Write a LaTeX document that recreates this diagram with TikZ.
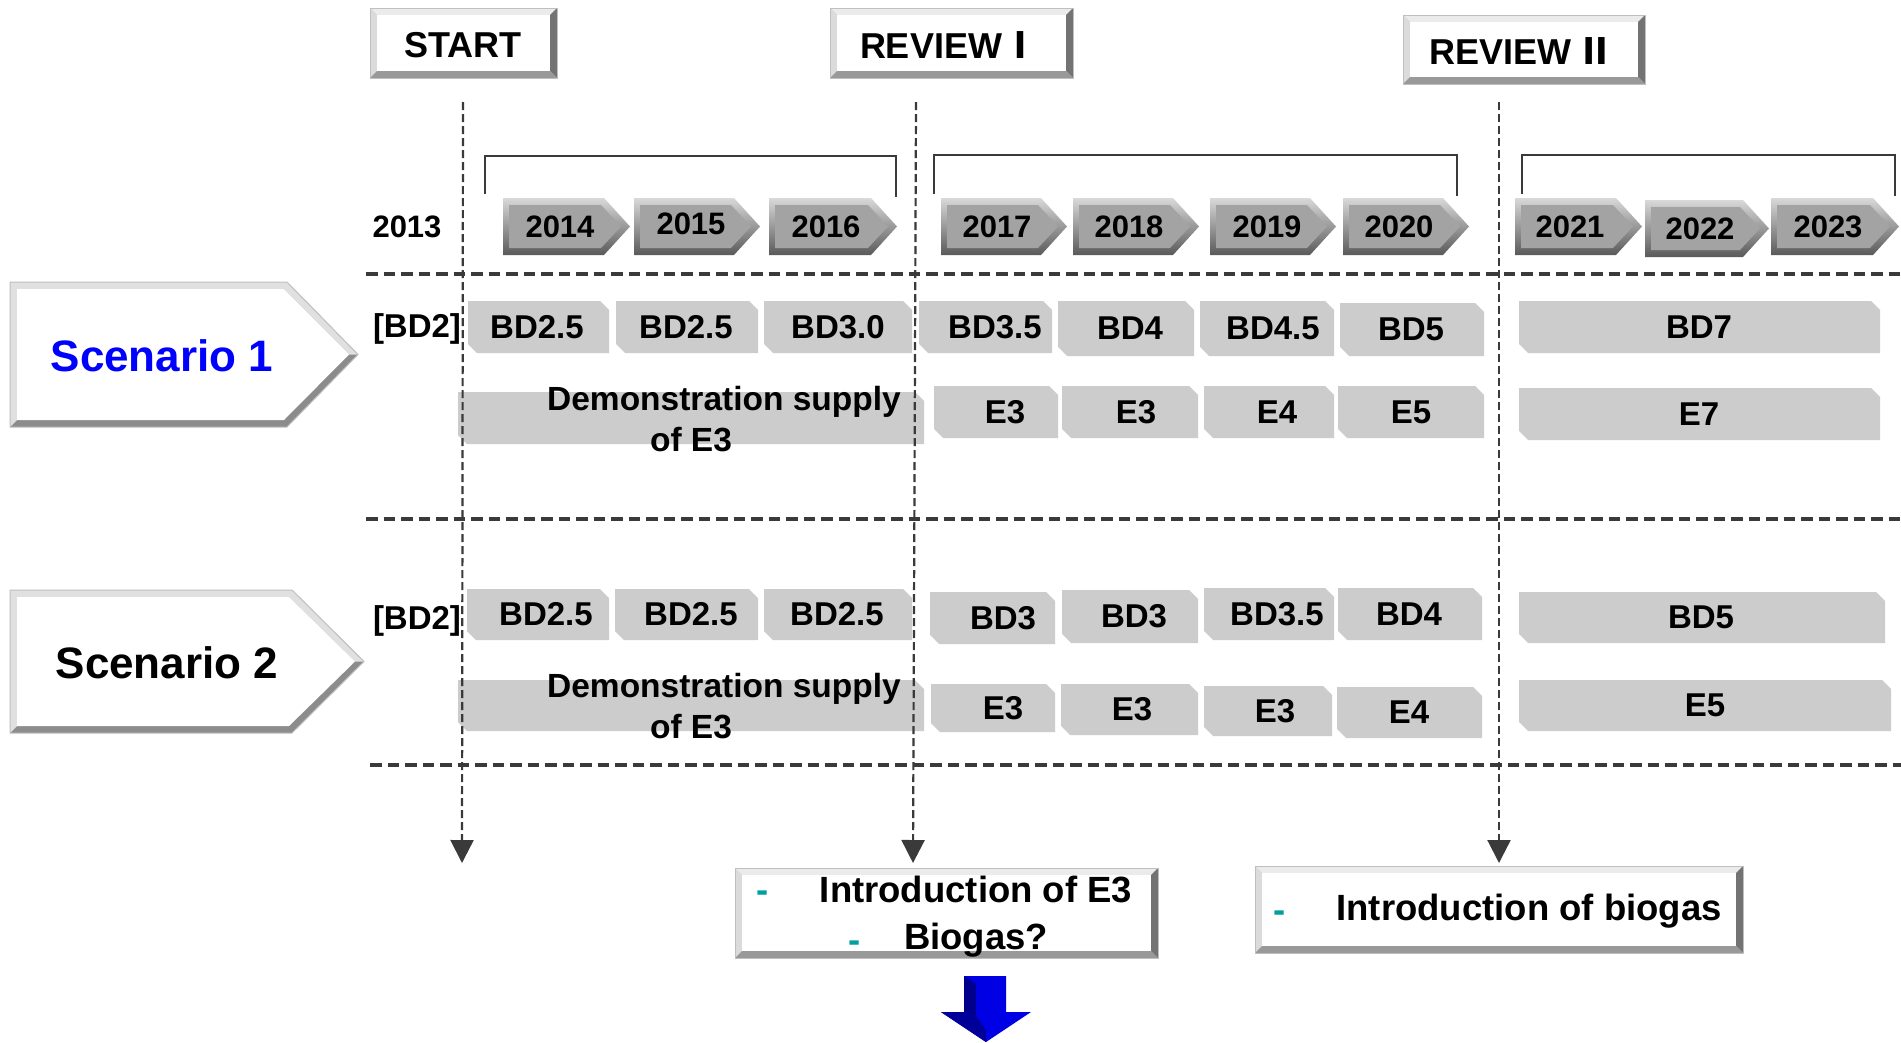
\documentclass[tikz,border=0pt]{standalone}
\usepackage{fontspec}
\setmainfont{Liberation Sans}
\newfontfamily\numfont{Noto Sans CJK KR}
\usetikzlibrary{arrows.meta}
\definecolor{boxgray}{HTML}{CCCCCC}
\definecolor{linegray}{HTML}{3A3A3A}
\definecolor{tealdash}{RGB}{0,160,160}
\definecolor{scblue}{RGB}{0,0,255}
\tikzset{
  lbl/.style={font=\fontsize{33}{36}\selectfont\bfseries, inner sep=0pt},
  demo/.style={font=\fontsize{33.5}{36}\selectfont\bfseries, inner sep=0pt},
  yr/.style={font=\fontsize{31}{34}\selectfont\bfseries, inner sep=0pt},
  hdr/.style={font=\fontsize{36}{40}\selectfont\bfseries, inner sep=0pt},
  scn/.style={font=\fontsize{44}{48}\selectfont\bfseries, inner sep=0pt},
  btm/.style={font=\fontsize{36.5}{40}\selectfont\bfseries, inner sep=0pt},
  hdash/.style={draw=linegray, line width=3.5pt, dash pattern=on 11.5pt off 6pt},
  vdash/.style={draw=linegray, line width=2.2pt, dash pattern=on 8pt off 4pt,
     -{Triangle[width=23pt,length=23pt]}},
  bracketline/.style={draw=linegray, line width=2.5pt},
}
\newcommand\gbox[7]{%
  \fill[boxgray] (#2,#3) -- ({#4-9},#3) -- (#4,{#3+9}) -- (#4,#5) -- ({#2+9},#5) -- (#2,{#5-9}) -- cycle;
  \node[lbl] (#1) at (#6,{(#3+#5)/2}) {#7};
}
\newcommand\yarrow[8]{%
  \pgfmathsetmacro\ym{(#3+#5)/2}
  \shade[top color=black!15, bottom color=black!65] (#2,#3) -- ({#4-26},#3) -- (#4,\ym) -- ({#4-26},#5) -- (#2,#5) -- cycle;
  \fill[black!36] ({#2+6},{#3+7}) -- ({#4-29},{#3+7}) -- ({#4-9},\ym) -- ({#4-29},{#5-7}) -- ({#2+6},{#5-7}) -- cycle;
  \node[yr] (#1) at (#6,#7) {#8};
}
\newcommand\bevel[4]{%
  \fill[black!20] (#1,#2) rectangle (#3,#4);
  \fill[black!8] (#1,#2) -- (#3,#2) -- ({#3-7},{#2+7}) -- ({#1+7},{#2+7}) -- cycle;
  \fill[black!14] (#1,#2) -- ({#1+7},{#2+7}) -- ({#1+7},{#4-7}) -- (#1,#4) -- cycle;
  \fill[black!55] (#3,#2) -- (#3,#4) -- ({#3-7},{#4-7}) -- ({#3-7},{#2+7}) -- cycle;
  \fill[black!40] (#1,#4) -- (#3,#4) -- ({#3-7},{#4-7}) -- ({#1+7},{#4-7}) -- cycle;
  \fill[white] ({#1+7},{#2+7}) rectangle ({#3-7},{#4-7});
  \draw[black!25, line width=1pt] (#1,#2) rectangle (#3,#4);
}
\newcommand\scen[5]{%
  \pgfmathsetmacro\ym{(#2+#5)/2}
  \fill[black!45] (#1,#2) -- (#3,#2) -- (#4,\ym) -- (#3,#5) -- (#1,#5) -- cycle;
  \fill[black!12] (#1,#2) -- (#3,#2) -- ({#4},\ym) -- ({#4-9},\ym) -- ({#3-3},{#2+7}) -- ({#1+7},{#2+7}) -- ({#1+7},{#5-7}) -- (#1,#5) -- cycle;
  \fill[white] ({#1+7},{#2+7}) -- ({#3-3},{#2+7}) -- ({#4-9},\ym) -- ({#3-3},{#5-7}) -- ({#1+7},{#5-7}) -- cycle;
  \draw[black!25, line width=1pt] (#1,#2) -- (#3,#2) -- (#4,\ym) -- (#3,#5) -- (#1,#5) -- cycle;
}
\begin{document}
\begin{tikzpicture}[x=1pt,y=-1pt]
\useasboundingbox (0,0) rectangle (1901,1042);
\fill[white] (0,0) rectangle (1901,1042);

% header boxes
\bevel{370}{8}{557}{78}
\node[hdr] (start) at (463,45) {START};
\bevel{830}{8}{1073}{78}
\node[hdr] (rev1) at (949,45) {REVIEW{\numfont Ⅰ}};
\bevel{1403}{15}{1645}{84}
\node[hdr] (rev2) at (1521,51) {REVIEW\,{\numfont Ⅱ}};

% brackets
\draw[bracketline] (485,194) |- (896,156) -- (896,197);
\draw[bracketline] (934,194) |- (1457,155) -- (1457,196);
\draw[bracketline] (1522,194) |- (1895,155) -- (1895,196);

% years
\node[yr] (y2013) at (407,227) {2013};
\yarrow{y2014}{503}{198}{630}{255}{560}{227}{2014}
\yarrow{y2015}{634}{198}{760}{255}{691}{224}{2015}
\yarrow{y2016}{769}{198}{897}{255}{826}{227}{2016}
\yarrow{y2017}{941}{198}{1067}{255}{997}{227}{2017}
\yarrow{y2018}{1073}{198}{1199}{255}{1129}{227}{2018}
\yarrow{y2019}{1210}{198}{1336}{255}{1267}{227}{2019}
\yarrow{y2020}{1343}{198}{1469}{255}{1399}{227}{2020}
\yarrow{y2021}{1515}{198}{1642}{255}{1570}{227}{2021}
\yarrow{y2022}{1645}{200}{1769}{257}{1700}{229}{2022}
\yarrow{y2023}{1771}{198}{1899}{255}{1828}{227}{2023}

% scenario arrows
\scen{10}{282}{287}{358}{427}
\node[scn, text=scblue] (sc1) at (162,356) {Scenario 1};
\scen{10}{590}{292}{364}{733}
\node[scn] (sc2) at (167,663) {Scenario 2};

\node[lbl] (bdA) at (417,329) {[BD2]};
\node[lbl] (bdB) at (417,621) {[BD2]};

% scenario 1 rows
\gbox{a1}{468}{301}{609}{353}{537}{BD2.5}
\gbox{a2}{616}{301}{758}{353}{686}{BD2.5}
\gbox{a3}{764}{301}{912}{353}{838}{BD3.0}
\gbox{a4}{919}{301}{1052}{353}{995}{BD3.5}
\gbox{a5}{1058}{301}{1194}{356}{1130}{BD4}
\gbox{a6}{1200}{301}{1334}{356}{1273}{BD4.5}
\gbox{a7}{1340}{303}{1484}{356}{1411}{BD5}
\gbox{a8}{1519}{301}{1880}{353}{1699}{BD7}

\gbox{d1}{458}{392}{924}{444}{691}{}
\node[demo] (d1a) at (724,402) {Demonstration supply};
\node[demo] (d1b) at (691,440) {of E3};
\gbox{e1}{934}{386}{1058}{438}{1005}{E3}
\gbox{e2}{1062}{386}{1198}{438}{1136}{E3}
\gbox{e3}{1204}{386}{1334}{438}{1277}{E4}
\gbox{e4}{1338}{386}{1484}{438}{1411}{E5}
\gbox{e5}{1519}{388}{1880}{440}{1699}{E7}

% scenario 2 rows
\gbox{b1}{467}{589}{609}{640}{546}{BD2.5}
\gbox{b2}{615}{589}{758}{640}{691}{BD2.5}
\gbox{b3}{764}{589}{912}{640}{837}{BD2.5}
\gbox{b4}{930}{592}{1055}{644}{1003}{BD3}
\gbox{b5}{1062}{590}{1198}{643}{1134}{BD3}
\gbox{b6}{1204}{588}{1334}{640}{1277}{BD3.5}
\gbox{b7}{1338}{588}{1482}{640}{1409}{BD4}
\gbox{b8}{1519}{592}{1885}{643}{1701}{BD5}

\gbox{d2}{458}{680}{924}{731}{691}{}
\node[demo] (d2a) at (724,689) {Demonstration supply};
\node[demo] (d2b) at (691,727) {of E3};
\gbox{f1}{931}{684}{1055}{732}{1003}{E3}
\gbox{f2}{1061}{684}{1198}{735}{1132}{E3}
\gbox{f3}{1204}{686}{1332}{736}{1275}{E3}
\gbox{f4}{1337}{687}{1482}{738}{1409}{E4}
\gbox{f5}{1519}{680}{1891}{731}{1705}{E5}

% horizontal dashed lines
\coordinate (h1a) at (366,274); \coordinate (h1b) at (1901,274);
\coordinate (h2a) at (366,519); \coordinate (h2b) at (1901,519);
\coordinate (h3a) at (370,765); \coordinate (h3b) at (1901,765);
\draw[hdash] (h1a) -- (h1b);
\draw[hdash] (h2a) -- (h2b);
\draw[hdash] (h3a) -- (h3b);

% vertical dashed arrows
\coordinate (v1a) at (463,102); \coordinate (v1b) at (462,863);
\coordinate (v2a) at (916,102); \coordinate (v2b) at (913,863);
\coordinate (v3a) at (1499,102); \coordinate (v3b) at (1499,863);
\draw[vdash] (v1a) -- (v1b);
\draw[vdash] (v2a) -- (v2b);
\draw[vdash] (v3a) -- (v3b);

% bottom boxes
\bevel{735}{868}{1158}{958}
\node[btm, text=tealdash, yshift=-6pt] (m1) at (763,891) {-};
\node[btm] (t1) at (976,889) {Introduction of E3};
\node[btm, text=tealdash, yshift=-6pt] (m2) at (855,941) {-};
\node[btm] (t2) at (976,940) {Biogas?};
\bevel{1255}{866}{1743}{953}
\node[btm, text=tealdash, yshift=-6pt] (m3) at (1280,911) {-};
\node[btm] (t3) at (1529,911) {Introduction of biogas};

% blue arrow
\fill[blue!90!black] (964,976) -- (1006,976) -- (1006,1012) -- (1031,1012) -- (986,1042) -- (941,1012) -- (964,1012) -- cycle;
\fill[blue!55!black] (964,976) -- (976,984) -- (976,1016) -- (964,1012) -- cycle;
\fill[blue!60!black] (941,1012) -- (964,1012) -- (976,1016) -- (986,1030) -- (986,1042) -- cycle;
\end{tikzpicture}
\end{document}
